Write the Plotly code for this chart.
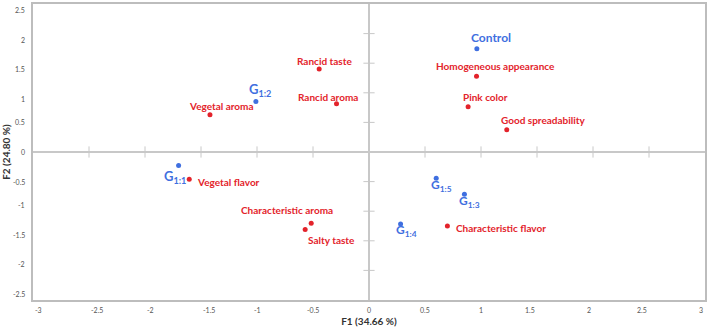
import plotly.graph_objects as go

# Attributes (red)
attr_names = ["Homogeneous appearance", "Pink color", "Good spreadability", "Rancid taste",
              "Rancid aroma", "Vegetal aroma", "Vegetal flavor", "Characteristic aroma",
              "Salty taste", "Characteristic flavor"]
attr_f1 = [0.96, 0.885, 1.23, -0.445, -0.29, -1.42, -1.605, -0.516, -0.57, 0.70]
attr_f2 = [1.28, 0.765, 0.377, 1.40, 0.815, 0.63, -0.46, -1.205, -1.31, -1.25]

# Samples (blue)
samp_names = ["Control", "G<sub>1:2</sub>", "G<sub>1:1</sub>", "G<sub>1:5</sub>", "G<sub>1:3</sub>", "G<sub>1:4</sub>"]
samp_f1 = [0.963, -1.01, -1.70, 0.60, 0.852, 0.282]
samp_f2 = [1.745, 0.855, -0.23, -0.445, -0.715, -1.216]

tick_vals = [-3, -2.5, -2, -1.5, -1, -0.5, 0, 0.5, 1, 1.5, 2, 2.5, 3]
ytick_vals = [-2.5, -2, -1.5, -1, -0.5, 0, 0.5, 1, 1.5, 2, 2.5]

RED = "#e3232b"
BLUE = "#3f6fe0"
FONT = "Lato"
TICKFONT = dict(family=FONT, size=7, color="#555")

# label placement (xshift, yshift, xanchor) — styling only
attr_pos = [(19, 10, "center"), (17, 10, "center"), (37, 10, "center"), (5, 8, "center"),
            (-9, 7, "center"), (12, 9, "center"), (6, -3, "left"), (-24, 13, "center"),
            (26, -10, "center"), (7, -2, "left")]
samp_pos = [(14, 11, "center"), (4, 11, "center"), (-4, -11, "center"), (5, -7, "center"),
            (5, -7, "center"), (6, -7, "center")]
samp_size = [12, 13, 13, 12, 12, 12]

XR = [-3, 3]
YR = [-2.5, 2.5]
GRAY = "#c8c8c8"

fig = go.Figure()
# small tick marks along the zero axes
fig.add_trace(go.Scatter(x=[v for v in tick_vals if v not in (-3, 0, 3)], y=[0] * 10, mode="markers",
                         marker=dict(symbol="line-ns", size=8, line=dict(color=GRAY, width=1)),
                         showlegend=False, hoverinfo="skip"))
fig.add_trace(go.Scatter(y=[v for v in ytick_vals if v not in (-2.5, 0, 2.5)], x=[0] * 8, mode="markers",
                         marker=dict(symbol="line-ew", size=8, line=dict(color=GRAY, width=1)),
                         showlegend=False, hoverinfo="skip"))
fig.add_trace(go.Scatter(x=attr_f1, y=attr_f2, mode="markers",
                         marker=dict(color=RED, size=5), showlegend=False, hoverinfo="skip"))
fig.add_trace(go.Scatter(x=samp_f1, y=samp_f2, mode="markers",
                         marker=dict(color=BLUE, size=5), showlegend=False, hoverinfo="skip"))

for n, x, y, (dx, dy, xa) in zip(attr_names, attr_f1, attr_f2, attr_pos):
    fig.add_annotation(x=x, y=y, text=n, showarrow=False, xshift=dx, yshift=dy, xanchor=xa,
                       font=dict(family=FONT, size=10, color=RED, weight="bold"))
for n, x, y, (dx, dy, xa), s in zip(samp_names, samp_f1, samp_f2, samp_pos, samp_size):
    fig.add_annotation(x=x, y=y, text=n, showarrow=False, xshift=dx, yshift=dy, xanchor=xa,
                       font=dict(family=FONT, size=s, color=BLUE, weight="bold"))

# tick labels (drawn as text so the end labels are not auto-hidden)
for v in tick_vals:
    fig.add_annotation(x=(v - XR[0]) / (XR[1] - XR[0]), xref="paper", y=0, yref="paper",
                       text=f"{v:g}", showarrow=False, yanchor="top", yshift=-4, font=TICKFONT)
for v in ytick_vals:
    fig.add_annotation(y=(v - YR[0]) / (YR[1] - YR[0]), yref="paper", x=0, xref="paper",
                       text=f"{v:g}", showarrow=False, xanchor="right", xshift=-6, font=TICKFONT)

fig.update_layout(
    width=709, height=331,
    margin=dict(l=33, r=2, t=4, b=31),
    plot_bgcolor="white", paper_bgcolor="white",
    xaxis=dict(range=XR, tickvals=tick_vals, showticklabels=False,
               showgrid=False, zeroline=True, zerolinecolor=GRAY, zerolinewidth=1.5,
               showline=True, mirror=True, linecolor="#bdbdbd", linewidth=1.5, ticks="",
               title=dict(text="F1 (34.66 %)", font=dict(family=FONT, size=10, color="#333", weight="bold"),
                          standoff=17)),
    yaxis=dict(range=YR, tickvals=ytick_vals, showticklabels=False,
               showgrid=False, zeroline=True, zerolinecolor=GRAY, zerolinewidth=1.5,
               showline=True, mirror=True, linecolor="#bdbdbd", linewidth=1.5, ticks="",
               title=dict(text="F2 (24.80 %)", font=dict(family=FONT, size=10, color="#333", weight="bold"),
                          standoff=19)),
)

fig.write_html("out.html")
